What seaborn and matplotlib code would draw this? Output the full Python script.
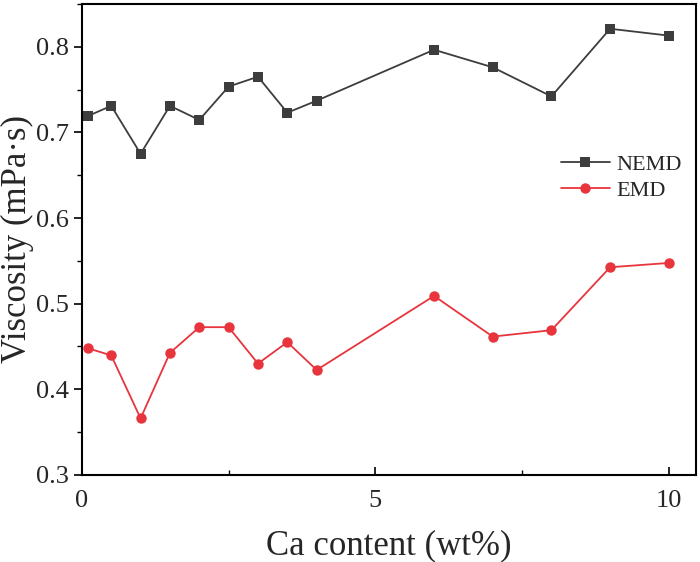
import numpy as np
import pandas as pd
import matplotlib
matplotlib.use("Agg")
import matplotlib.pyplot as plt
from matplotlib.ticker import MultipleLocator
import seaborn as sns

ca_content = [0.1, 0.5, 1, 1.5, 2, 2.5, 3, 3.5, 4, 6, 7, 8, 9, 10]
nemd = [0.719, 0.731, 0.675, 0.731, 0.7145, 0.7535, 0.765, 0.723, 0.737,
        0.7965, 0.776, 0.742, 0.821, 0.813]
emd = [0.448, 0.4395, 0.366, 0.4425, 0.4725, 0.4725, 0.430, 0.455, 0.4225,
       0.509, 0.4615, 0.469, 0.5425, 0.5475]
series_names = ['NEMD', 'EMD']

df = pd.DataFrame({
    'x': ca_content * 2,
    'y': nemd + emd,
    'method': [series_names[0]] * len(nemd) + [series_names[1]] * len(emd),
})

sns.set_style("ticks")
plt.rcParams['font.family'] = ['Liberation Serif', 'DejaVu Serif']

palette = {'NEMD': '#3d3d3d', 'EMD': '#e8343c'}
markers = {'NEMD': 's', 'EMD': 'o'}

fig = plt.figure(figsize=(7, 5.62), dpi=100)
ax = fig.add_axes([0.117, 0.155, 0.877, 0.838])

sns.lineplot(data=df, x='x', y='y', hue='method', style='method',
             palette=palette, markers=markers, dashes=False,
             markersize=7.5, markeredgewidth=0, linewidth=1.3, ax=ax)

ax.set_xlim(0, 10.46)
ax.set_ylim(0.3, 0.85)
ax.xaxis.set_major_locator(MultipleLocator(5))
ax.xaxis.set_minor_locator(MultipleLocator(2.5))
ax.yaxis.set_minor_locator(MultipleLocator(0.05))
ax.set_yticks([0.3, 0.4, 0.5, 0.6, 0.7, 0.8])
ax.set_yticklabels(['0.3', '0.4', '0.5', '0.6', '0.7', '0.8'])

ax.tick_params(axis='x', which='both', direction='in', labelsize=19, pad=11)
ax.tick_params(axis='y', which='both', direction='out', labelsize=19)
ax.tick_params(which='major', length=6, width=1.2, color='black')
ax.tick_params(which='minor', length=3.5, width=1.0, color='black')

for s in ax.spines.values():
    s.set_linewidth(1.5)
    s.set_color('black')

ax.set_xlabel('Ca content (wt%)', fontsize=25, labelpad=12)
ax.set_ylabel('Viscosity (mPa·s)', fontsize=25)
ax.yaxis.set_label_coords(-0.078, 0.5)

ax.legend(loc='upper left', bbox_to_anchor=(0.766, 0.70), frameon=False,
          fontsize=16, handlelength=2.2, handletextpad=0.3, labelspacing=0.25,
          borderaxespad=0)

fig.savefig('out.png', dpi=100)
